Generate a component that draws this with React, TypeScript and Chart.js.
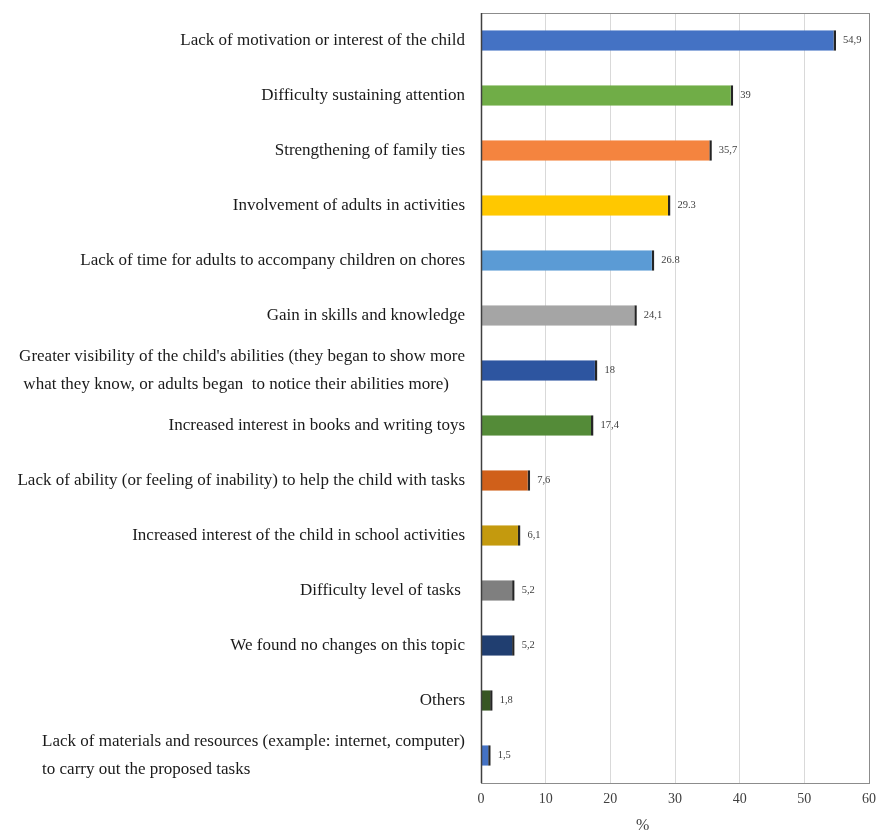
import React, { useEffect, useRef } from "react";
import { Chart, registerables } from "chart.js";

Chart.register(...registerables);

const categories: string[][] = [
  ["Lack of motivation or interest of the child"],
  ["Difficulty sustaining attention"],
  ["Strengthening of family ties"],
  ["Involvement of adults in activities"],
  ["Lack of time for adults to accompany children on chores"],
  ["Gain in skills and knowledge"],
  [
    "Greater visibility of the child's abilities (they began to show more",
    " what they know, or adults began  to notice their abilities more)",
  ],
  ["Increased interest in books and writing toys"],
  ["Lack of ability (or feeling of inability) to help the child with tasks"],
  ["Increased interest of the child in school activities"],
  ["Difficulty level of tasks "],
  ["We found no changes on this topic"],
  ["Others"],
  [
    "Lack of materials and resources (example: internet, computer)",
    "to carry out the proposed tasks",
  ],
];

const values: number[] = [54.9, 39, 35.7, 29.3, 26.8, 24.1, 18, 17.4, 7.6, 6.1, 5.2, 5.2, 1.8, 1.5];

const valueLabels: string[] = [
  "54,9", "39", "35,7", "29.3", "26.8", "24,1", "18", "17,4", "7,6", "6,1", "5,2", "5,2", "1,8", "1,5",
];

const barColors: string[] = [
  "#4472C4", "#70AD47", "#F4843F", "#FFC800", "#5B9BD5", "#A5A5A5", "#2D55A0",
  "#548B38", "#D0601A", "#C49A0E", "#7F7F7F", "#203E70", "#375623", "#4472C4",
];

const xTicks: number[] = [0, 10, 20, 30, 40, 50, 60];
const axisTitle = "%";

const SERIF = "'Liberation Serif', 'Times New Roman', serif";

export default function App() {
  const canvasRef = useRef<HTMLCanvasElement | null>(null);

  useEffect(() => {
    if (!canvasRef.current) return;

    const labelPlugin = {
      id: "customLabels",
      beforeDatasetsDraw(chart: any) {
        const { ctx, chartArea } = chart;
        ctx.save();
        ctx.strokeStyle = "#8c8c8c";
        ctx.lineWidth = 1;
        ctx.strokeRect(chartArea.left + 0.5, chartArea.top + 0.5, chartArea.right - chartArea.left, chartArea.bottom - chartArea.top);
        ctx.restore();
      },
      afterDatasetsDraw(chart: any) {
        const { ctx, chartArea } = chart;
        const yScale = chart.scales.y;
        const xScale = chart.scales.x;
        ctx.save();
        // left axis line
        ctx.strokeStyle = "#404040";
        ctx.lineWidth = 1.5;
        ctx.beginPath();
        ctx.moveTo(chartArea.left + 0.5, chartArea.top);
        ctx.lineTo(chartArea.left + 0.5, chartArea.bottom);
        ctx.stroke();

        // category labels
        ctx.font = `17px ${SERIF}`;
        ctx.fillStyle = "#1a1a1a";
        ctx.textBaseline = "middle";
        const rightX = chartArea.left - 16;
        categories.forEach((lines, i) => {
          const cy = yScale.getPixelForValue(i);
          if (lines.length === 1) {
            ctx.textAlign = "right";
            ctx.fillText(lines[0], rightX, cy);
          } else {
            const lh = 28;
            const maxW = Math.max(...lines.map((l) => ctx.measureText(l).width));
            ctx.textAlign = "left";
            const startY = cy - ((lines.length - 1) * lh) / 2;
            lines.forEach((l, j) => ctx.fillText(l, rightX - maxW, startY + j * lh));
          }
        });

        // value labels
        ctx.font = `10.5px ${SERIF}`;
        ctx.fillStyle = "#404040";
        ctx.textAlign = "left";
        const meta = chart.getDatasetMeta(0);
        meta.data.forEach((bar: any, i: number) => {
          ctx.fillText(valueLabels[i], bar.x + 7, bar.y);
        });

        // axis title
        ctx.font = `16px ${SERIF}`;
        ctx.fillStyle = "#404040";
        ctx.textAlign = "center";
        ctx.textBaseline = "middle";
        ctx.fillText(axisTitle, xScale.getPixelForValue(25), 826);
        ctx.restore();
      },
    };

    const chart = new Chart(canvasRef.current, {
      type: "bar",
      data: {
        labels: categories.map((c) => c.join(" ")),
        datasets: [
          {
            data: values,
            backgroundColor: barColors,
            borderColor: "rgba(25,25,25,0.95)",
            borderWidth: { top: 0, bottom: 0, left: 0, right: 2.5 } as any,
            borderSkipped: false,
            barPercentage: 0.37,
            categoryPercentage: 1,
          },
        ],
      },
      options: {
        indexAxis: "y",
        animation: false,
        responsive: true,
        maintainAspectRatio: false,
        layout: { padding: { left: 481, top: 13, right: 7, bottom: 0 } },
        plugins: {
          legend: { display: false },
          tooltip: { enabled: false },
        },
        scales: {
          x: {
            min: 0,
            max: 60,
            afterBuildTicks: (scale: any) => {
              scale.ticks = xTicks.map((v) => ({ value: v }));
            },
            afterFit: (scale: any) => {
              scale.height = 48;
              scale.paddingLeft = 0;
              scale.paddingRight = 0;
            },
            ticks: {
              font: { family: SERIF, size: 14 },
              color: "#404040",
              padding: 8,
            },
            grid: { color: "#d9d9d9", drawTicks: false },
            border: { display: false },
          },
          y: {
            display: false,
          },
        },
      },
      plugins: [labelPlugin],
    });

    return () => chart.destroy();
  }, []);

  return (
    <div style={{ position: "absolute", left: 0, top: 0, width: 876, height: 831, background: "#fff" }}>
      <canvas ref={canvasRef} />
    </div>
  );
}
